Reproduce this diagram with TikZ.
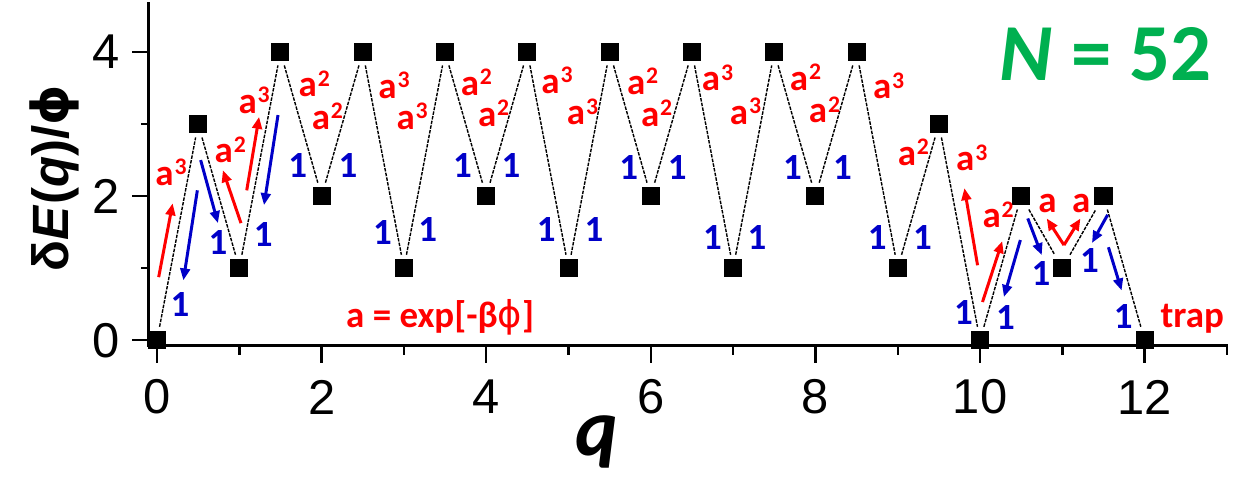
\documentclass[tikz,border=0pt]{standalone}
\usepackage{fontspec}
\setmainfont{Liberation Sans}
\newfontfamily\carl{Carlito}
\newfontfamily\dejav{DejaVu Sans}
\usepackage{tikz}
\usetikzlibrary{arrows.meta}
\definecolor{myred}{RGB}{255,0,0}
\definecolor{myblue}{RGB}{0,0,200}
\definecolor{mygreen}{RGB}{0,176,80}
\newcommand{\apow}[1]{a\hspace{0.5pt}\raisebox{6pt}{\fontsize{13.5}{13.5}\selectfont #1}}
\newcommand{\phisym}{{\dejav ϕ}}
\tikzset{
  state/.style={rectangle, fill=black, minimum size=0.36cm,
    inner sep=0pt, outer sep=2.5pt},
  zigzag/.style={line width=0.8pt, dash pattern=on 2pt off 0.7pt},
  axisline/.style={line width=1.7pt, line cap=rect},
  tickmark/.style={line width=1.4pt},
  ticklab/.style={font=\fontsize{27.8}{28}\selectfont, inner sep=0pt},
  rate/.style={font=\carl\fontsize{21}{21}\selectfont\bfseries, inner sep=0pt},
  redlab/.style={rate, text=myred},
  bluelab/.style={rate, text=myblue},
  redarrow/.style={-{Triangle[length=6.8pt,width=5.5pt]}, line width=1.7pt, color=myred},
  bluearrow/.style={-{Triangle[length=6.8pt,width=5.5pt]}, line width=1.7pt, color=myblue}
}
\begin{document}
\begin{tikzpicture}[x=1.645cm, y=1.44cm]
  \useasboundingbox (-1.908,-1.944) rectangle (13.171,4.722);
  % Axes
  \draw[axisline] (-0.1,4.68) -- (-0.1,-0.08) -- (13,-0.08);
  \foreach \q in {0,2,...,12}
    \draw[tickmark] (\q,-0.08) -- (\q,-0.32);
  \foreach \q in {1,3,...,13}
    \draw[tickmark] (\q,-0.08) -- (\q,-0.21);
  \foreach \e in {0,2,4}
    \draw[tickmark] (-0.1,\e) -- (-0.3,\e);
  \foreach \e in {1,3}
    \draw[tickmark] (-0.1,\e) -- (-0.2,\e);
  \foreach \q in {0,2,...,12}
    \node[ticklab] (xl\q) at (\q,-0.79) {\q};
  \foreach \e in {0,2,4}
    \node[ticklab, anchor=east] (yl\e) at (-0.45,\e) {\e};
  \node[font=\fontsize{29}{29}\selectfont\bfseries, rotate=90, anchor=base] (ylab) at (-1.08,2.25)
    {δ\textit{E}(\textit{q})/\phisym};
  \node[font=\carl\fontsize{46}{46}\selectfont\bfseries\itshape, anchor=base] (xlab) at (5.34,-1.60) {q};
  % Energy landscape
  \foreach \q/\e [count=\i from 0] in {0/0, 0.5/3, 1/1, 1.5/4, 2/2, 2.5/4, 3/1, 3.5/4, 4/2,
      4.5/4, 5/1, 5.5/4, 6/2, 6.5/4, 7/1, 7.5/4, 8/2, 8.5/4, 9/1, 9.5/3, 10/0, 10.5/2,
      11/1, 11.5/2, 12/0}
    \node[state] (p\i) at (\q,\e) {};
  \draw[zigzag] (p0) -- (p1) -- (p2) -- (p3) -- (p4) -- (p5) -- (p6) -- (p7) -- (p8)
    -- (p9) -- (p10) -- (p11) -- (p12) -- (p13) -- (p14) -- (p15) -- (p16) -- (p17)
    -- (p18) -- (p19) -- (p20) -- (p21) -- (p22) -- (p23) -- (p24);
  % Uphill rates
  \node[redlab] (r1) at (0.17,2.33) {\apow{3}};
  \node[redlab] (r2) at (0.89,2.64) {\apow{2}};
  \node[redlab] (r3) at (1.18,3.33) {\apow{3}};
  \node[redlab] (r4) at (1.91,3.56) {\apow{2}};
  \node[redlab] (r5) at (2.07,3.11) {\apow{2}};
  \node[redlab] (r6) at (2.88,3.54) {\apow{3}};
  \node[redlab] (r7) at (3.10,3.11) {\apow{3}};
  \node[redlab] (r8) at (3.88,3.58) {\apow{2}};
  \node[redlab] (r9) at (4.09,3.15) {\apow{2}};
  \node[redlab] (r10) at (4.86,3.61) {\apow{3}};
  \node[redlab] (r11) at (5.17,3.17) {\apow{3}};
  \node[redlab] (r12) at (5.90,3.59) {\apow{2}};
  \node[redlab] (r13) at (6.07,3.15) {\apow{2}};
  \node[redlab] (r14) at (6.81,3.64) {\apow{3}};
  \node[redlab] (r15) at (7.15,3.18) {\apow{3}};
  \node[redlab] (r16) at (7.88,3.65) {\apow{2}};
  \node[redlab] (r17) at (8.11,3.20) {\apow{2}};
  \node[redlab] (r18) at (8.89,3.53) {\apow{3}};
  \node[redlab] (r19) at (9.19,2.61) {\apow{2}};
  \node[redlab] (r20) at (9.90,2.53) {\apow{3}};
  \node[redlab] (r21) at (10.22,1.74) {\apow{2}};
  \node[redlab] (r22) at (10.82,1.90) {a};
  \node[redlab] (r23) at (11.23,1.90) {a};
  % Downhill rates
  \node[bluelab] (b1) at (0.28,0.49) {1};
  \node[bluelab] (b2) at (0.74,1.36) {1};
  \node[bluelab] (b3) at (1.29,1.46) {1};
  \node[bluelab] (b4) at (1.71,2.42) {1};
  \node[bluelab] (b5) at (2.32,2.42) {1};
  \node[bluelab] (b6) at (2.74,1.50) {1};
  \node[bluelab] (b7) at (3.29,1.54) {1};
  \node[bluelab] (b8) at (3.71,2.42) {1};
  \node[bluelab] (b9) at (4.30,2.42) {1};
  \node[bluelab] (b10) at (4.73,1.53) {1};
  \node[bluelab] (b11) at (5.31,1.53) {1};
  \node[bluelab] (b12) at (5.73,2.39) {1};
  \node[bluelab] (b13) at (6.32,2.39) {1};
  \node[bluelab] (b14) at (6.75,1.43) {1};
  \node[bluelab] (b15) at (7.29,1.43) {1};
  \node[bluelab] (b16) at (7.72,2.39) {1};
  \node[bluelab] (b17) at (8.33,2.39) {1};
  \node[bluelab] (b18) at (8.75,1.42) {1};
  \node[bluelab] (b19) at (9.30,1.42) {1};
  \node[bluelab] (b20) at (9.80,0.39) {1};
  \node[bluelab] (b21) at (10.31,0.32) {1};
  \node[bluelab] (b22) at (10.74,0.92) {1};
  \node[bluelab] (b23) at (11.33,1.11) {1};
  \node[bluelab] (b24) at (11.74,0.33) {1};
  % Hopping arrows
  \draw[redarrow] (0.02,0.875) -- (0.19,1.90);
  \draw[redarrow] (1.02,1.625) -- (0.80,2.36);
  \draw[redarrow] (1.09,2.08) -- (1.24,3.10);
  \draw[redarrow] (9.97,1.04) -- (9.81,2.11);
  \draw[redarrow] (10.03,0.53) -- (10.27,1.375);
  \draw[redarrow] (11.02,1.32) -- (10.81,1.69);
  \draw[redarrow] (11.02,1.32) -- (11.22,1.69);
  \draw[bluearrow] (0.49,2.08) -- (0.32,0.83);
  \draw[bluearrow] (0.53,2.5) -- (0.74,1.625);
  \draw[bluearrow] (1.47,3.125) -- (1.30,1.875);
  \draw[bluearrow] (10.49,1.39) -- (10.29,0.60);
  \draw[bluearrow] (10.58,1.69) -- (10.75,1.18);
  \draw[bluearrow] (11.55,1.74) -- (11.36,1.35);
  \draw[bluearrow] (11.56,1.29) -- (11.72,0.69);
  % Annotations
  \node[redlab, anchor=base] (defa) at (3.44,0.17) {a = exp[-β{\mdseries\phisym}]};
  \node[redlab, anchor=base west] (trap) at (12.19,0.17) {trap};
  \node[font=\carl\fontsize{46}{46}\selectfont\bfseries, text=mygreen, anchor=base] (nval) at (11.53,3.61)
    {\textit{N} = 52};
\end{tikzpicture}
\end{document}
